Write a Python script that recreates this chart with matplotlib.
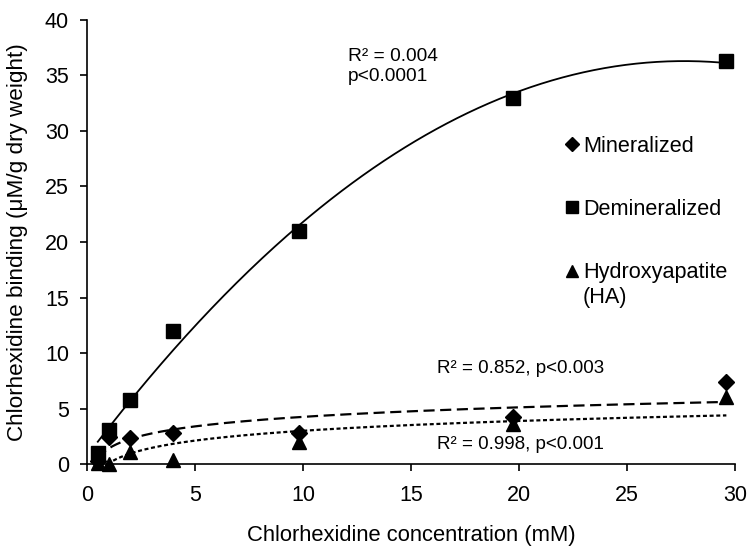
import numpy as np
import matplotlib
matplotlib.use("Agg")
import matplotlib.pyplot as plt

plt.rcParams['font.family'] = ['Liberation Sans', 'DejaVu Sans']

# chlorhexidine concentration (mM)
conc = [0.5, 1.0, 2.0, 4.0, 9.8, 19.7, 29.6]

# binding (uM/g dry weight)
mineralized = [0.3, 2.4, 2.3, 2.8, 2.8, 4.2, 7.4]
demineralized = [1.0, 3.1, 5.8, 12.0, 21.0, 33.0, 36.3]
hydroxyapatite = [0.1, 0.0, 1.1, 0.4, 2.0, 3.6, 6.0]

fit_labels = ["R\u00b2 = 0.004\np<0.0001", "R\u00b2 = 0.852, p<0.003", "R\u00b2 = 0.998, p<0.001"]

x = np.array(conc)
xs = np.linspace(x.min(), x.max(), 300)

# trendlines: quadratic for demineralized, logarithmic for the others
quad = np.polyfit(x, demineralized, 2)
log_min = np.polyfit(np.log(x), mineralized, 1)
log_ha = np.polyfit(np.log(x), hydroxyapatite, 1)

fig = plt.figure(figsize=(7.5, 5.52), dpi=100)
ax = fig.add_axes([0.116, 0.1594, 0.864, 0.8044])

ax.plot(xs, np.polyval(quad, xs), color='black', lw=1.3)
ax.plot(xs, np.polyval(log_min, np.log(xs)), color='black', lw=1.6, ls=(0, (5, 2.5)))
ax.plot(xs, np.polyval(log_ha, np.log(xs)), color='black', lw=1.6, ls=(0, (1.8, 1.2)))

hm, = ax.plot(conc, mineralized, 'D', color='black', ms=8.5, ls='none', clip_on=False)
hd, = ax.plot(conc, demineralized, 's', color='black', ms=10, ls='none', clip_on=False)
hh, = ax.plot(conc, hydroxyapatite, '^', color='black', ms=10.5, ls='none', clip_on=False)

ax.set_xlim(0, 30)
ax.set_ylim(0, 40)
ax.set_xticks(range(0, 31, 5))
ax.set_yticks(range(0, 41, 5))
ax.spines['top'].set_visible(False)
ax.spines['right'].set_visible(False)
ax.tick_params(direction='out', length=5, width=1.2, labelsize=15.5)
ax.tick_params(axis='x', pad=10)
ax.tick_params(axis='y', pad=8)
for s in ['left', 'bottom']:
    ax.spines[s].set_linewidth(1.2)

ax.set_xlabel('Chlorhexidine concentration (mM)', fontsize=15.8, labelpad=14)
ax.set_ylabel('Chlorhexidine binding (\u03bcM/g dry weight)', fontsize=16.2, labelpad=12)

leg = ax.legend([hm, hd, hh], ['Mineralized', 'Demineralized', 'Hydroxyapatite'],
                loc='upper left', bbox_to_anchor=(0.727, 0.759), frameon=False,
                fontsize=15.6, labelspacing=1.95, handlelength=0.45,
                handletextpad=0.3, markerscale=0.8, borderaxespad=0)
ax.text(0.765, 0.376, '(HA)', transform=ax.transAxes, fontsize=15.6, va='center')

ax.text(0.403, 0.896, fit_labels[0], transform=ax.transAxes, fontsize=13.8,
        va='center', linespacing=1.25)
ax.text(0.54, 0.216, fit_labels[1], transform=ax.transAxes, fontsize=13.5, va='center')
ax.text(0.54, 0.043, fit_labels[2], transform=ax.transAxes, fontsize=13.5, va='center')

fig.savefig('out.png', dpi=100)
